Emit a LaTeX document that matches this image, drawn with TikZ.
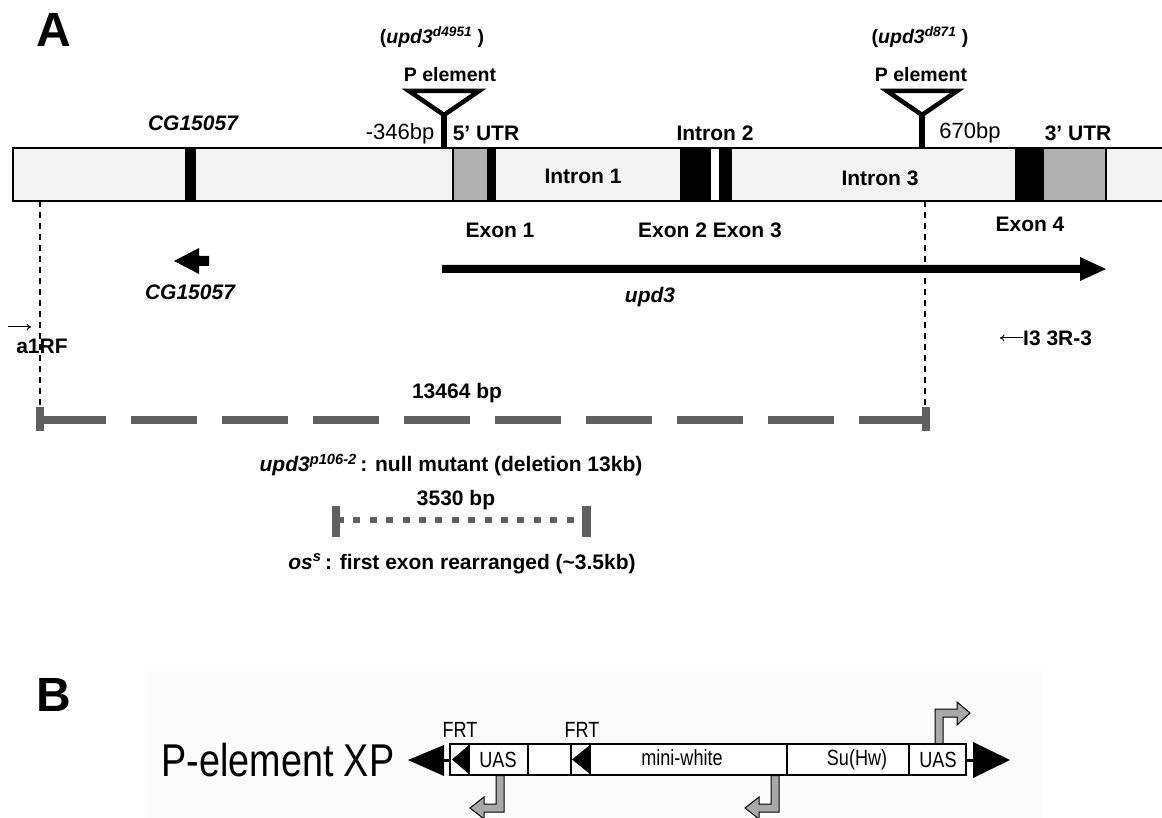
\documentclass[tikz,border=0pt]{standalone}
\usepackage{fontspec}
\usetikzlibrary{arrows.meta}
\setmainfont{Liberation Sans}
\newfontfamily\narrowfont[FakeStretch=0.82]{Liberation Sans}
\newcommand\fsz[1]{\fontsize{#1}{#1}\selectfont}
\definecolor{barfill}{HTML}{F3F3F3}
\definecolor{utr}{HTML}{B0B0B0}
\definecolor{dgray}{HTML}{606060}
\definecolor{arrgray}{HTML}{A8A8A8}
\definecolor{bgB}{HTML}{FCFCFC}
\begin{document}
\begin{tikzpicture}[x=1pt,y=-1pt,
  bl/.style={font=\fsz{21}\bfseries, inner sep=0pt},
  bls/.style={font=\fsz{19.5}\bfseries, inner sep=0pt},
  bi/.style={font=\fsz{21}\bfseries\itshape, inner sep=0pt},
  rg/.style={font=\fsz{22}, inner sep=0pt},
  nar/.style={font=\narrowfont\fsz{22}, inner sep=0pt},
  big/.style={font=\fsz{48}\bfseries, inner sep=0pt, anchor=west},
  pel/.style={draw=black, line width=4.5pt, line join=miter},
  stem/.style={line width=6pt},
  vdash/.style={line width=1.3pt, dash pattern=on 6pt off 5pt},
  utrbox/.style={fill=utr, draw=black, line width=1.5pt},
  gdash/.style={dgray, line width=8pt, dash pattern=on 66pt off 25pt},
  gdot/.style={dgray, line width=6.5pt, dash pattern=on 7pt off 9.4pt},
  tick/.style={fill=dgray},
  bent/.style={fill=arrgray, draw=black, line width=1pt, line join=miter},
  segbox/.style={draw=black, line width=1.5pt},
  thinarr/.style={-{To[length=4.5pt,width=7pt]}, line width=1pt}
]
\useasboundingbox (0,0) rectangle (1162,818);
\begin{scope}
\clip (0,0) rectangle (1162,818);

% ---------------- Panel A ----------------
\node[big] (labA) at (36,30) {A};

% gene bar
\fill[barfill] (13,148) rectangle (1170,201);
\fill[black] (185,148) rectangle (196,201);
\path[utrbox] (453,148) rectangle (488,201);
\fill[black] (488,148) rectangle (496,201);
\fill[black] (680,148) rectangle (711,201);
\fill[white] (711,148) rectangle (719,201);
\fill[black] (719,148) rectangle (732,201);
\fill[black] (1015,148) rectangle (1043,201);
\path[utrbox] (1043,148) rectangle (1106,201);
\draw[line width=2pt] (1170,148) -- (13,148) -- (13,201) -- (1170,201);

% P elements
\coordinate (p1) at (444,148);
\coordinate (p2) at (922,148);
\draw[pel] (409,91) -- (479,91) -- (444,115) -- cycle;
\draw[stem] (444,114) -- (p1);
\draw[pel] (887,91) -- (957,91) -- (922,115) -- cycle;
\draw[stem] (922,114) -- (p2);

\node[bls] (ins1) at (432,37) {(\textit{upd3}\textsuperscript{\textit{d4951}} )};
\node[bls] (pe1) at (450,75) {P element};
\node[bls] (ins2) at (920,37) {(\textit{upd3}\textsuperscript{\textit{d871}} )};
\node[bls] (pe2) at (921,75) {P element};

\node[bi] (cgtop) at (193,123) {CG15057};
\node[rg] (m346) at (400,134) {-346bp};
\node[bl] (utr5) at (486,133) {5’ UTR};
\node[bl] (in2) at (715,133) {Intron 2};
\node[rg] (b670) at (970,133) {670bp};
\node[bl] (utr3) at (1078,133) {3’ UTR};
\node[bl] (in1) at (583,176) {Intron 1};
\node[bl] (in3) at (880,178) {Intron 3};

\node[bl] (ex1) at (500,230) {Exon 1};
\node[bl] (ex23) at (710,230) {Exon 2 Exon 3};
\node[bl] (ex4) at (1030,224) {Exon 4};

% gene arrows
\fill[black] (174,261) -- (199,248) -- (199,256) -- (209,256) -- (209,266) -- (199,266) -- (199,274) -- cycle;
\node[bi] (cgbot) at (190,292) {CG15057};
\fill[black] (442,265) -- (1080,265) -- (1080,257) -- (1106,269) -- (1080,281) -- (1080,273) -- (442,273) -- cycle;
\node[bi] (upd3) at (650,297) {upd3};

% primers
\node[bl] (a1rf) at (42,346) {a1RF};
\coordinate (a1s) at (8,327);
\coordinate (a1e) at (31,327);
\draw[thinarr] (a1s) -- (a1e);
\node[bl, anchor=west] (i3) at (1023,338) {I3 3R-3};
\coordinate (i3e) at (1000,338);
\draw[thinarr] (i3.west) -- (i3e);

% vertical dashed guides
\draw[vdash] (40,201) -- (40,408);
\draw[vdash] (925,201) -- (925,408);

% deletion 13464 bp
\node[bl] (d13) at (457,393) {13464 bp};
\draw[gdash] (40,420) -- (926,420);
\fill[tick] (36,407) rectangle (44,431);
\fill[tick] (922,407) rectangle (930,431);
\node[bl] (nullm) at (451,465) {\textit{upd3}\textsuperscript{\textit{p106-2}}\,: null mutant (deletion 13kb)};

% 3530 bp
\node[bl] (d35) at (456,500) {3530 bp};
\draw[gdot] (337,520) -- (586,520);
\fill[tick] (332,506) rectangle (340,537);
\fill[tick] (582,506) rectangle (591,537);
\node[bl] (oss) at (462,564) {\textit{os}\textsuperscript{\textit{s}}\,: first exon rearranged (\char`\~3.5kb)};

% ---------------- Panel B ----------------
\fill[bgB] (145,670) rectangle (1045,830);
\node[big] (labB) at (36,695) {B};

\node[font=\narrowfont\fsz{46}, inner sep=0pt] (pxp) at (278,760) {P-element XP};

% left and right end arrows
\fill[black] (408,760) -- (444,745) -- (444,776) -- cycle;
\draw[line width=3pt] (442,760) -- (451,760);
\fill[black] (1010,760) -- (973,742) -- (973,778) -- cycle;
\draw[line width=3pt] (965,760) -- (975,760);

% construct box
\draw[segbox, fill=white] (450,744) rectangle (966,775);
\draw[segbox] (469,744) -- (469,775);
\draw[segbox] (528,744) -- (528,775);
\draw[segbox] (571,744) -- (571,775);
\draw[segbox] (590,744) -- (590,775);
\draw[segbox] (787,744) -- (787,775);
\draw[segbox] (909,744) -- (909,775);
\fill[black] (452,759.5) -- (469,745) -- (469,774) -- cycle;
\fill[black] (572,759.5) -- (590,745) -- (590,774) -- cycle;

\node[nar] (frt1) at (460,730) {FRT};
\node[nar] (frt2) at (582,730) {FRT};
\node[nar] (uas1) at (498,760) {UAS};
\node[nar] (mw) at (682,758) {mini-white};
\node[nar] (suhw) at (857,760) {Su(Hw)};
\node[nar] (uas2) at (938,760) {UAS};

% bent promoter arrows
\path[bent] (496,775.5) -- (504,775.5) -- (504,812) -- (484,812) -- (484,819) -- (470,808) -- (484,797) -- (484,804) -- (496,804) -- cycle;
\path[bent] (771,775.5) -- (779,775.5) -- (779,812) -- (759,812) -- (759,819) -- (745,808) -- (759,797) -- (759,804) -- (771,804) -- cycle;
\path[bent] (935,743.5) -- (943,743.5) -- (943,717) -- (957,717) -- (957,725) -- (970,713) -- (957,702) -- (957,709) -- (935,709) -- cycle;
\end{scope}
\end{tikzpicture}
\end{document}
